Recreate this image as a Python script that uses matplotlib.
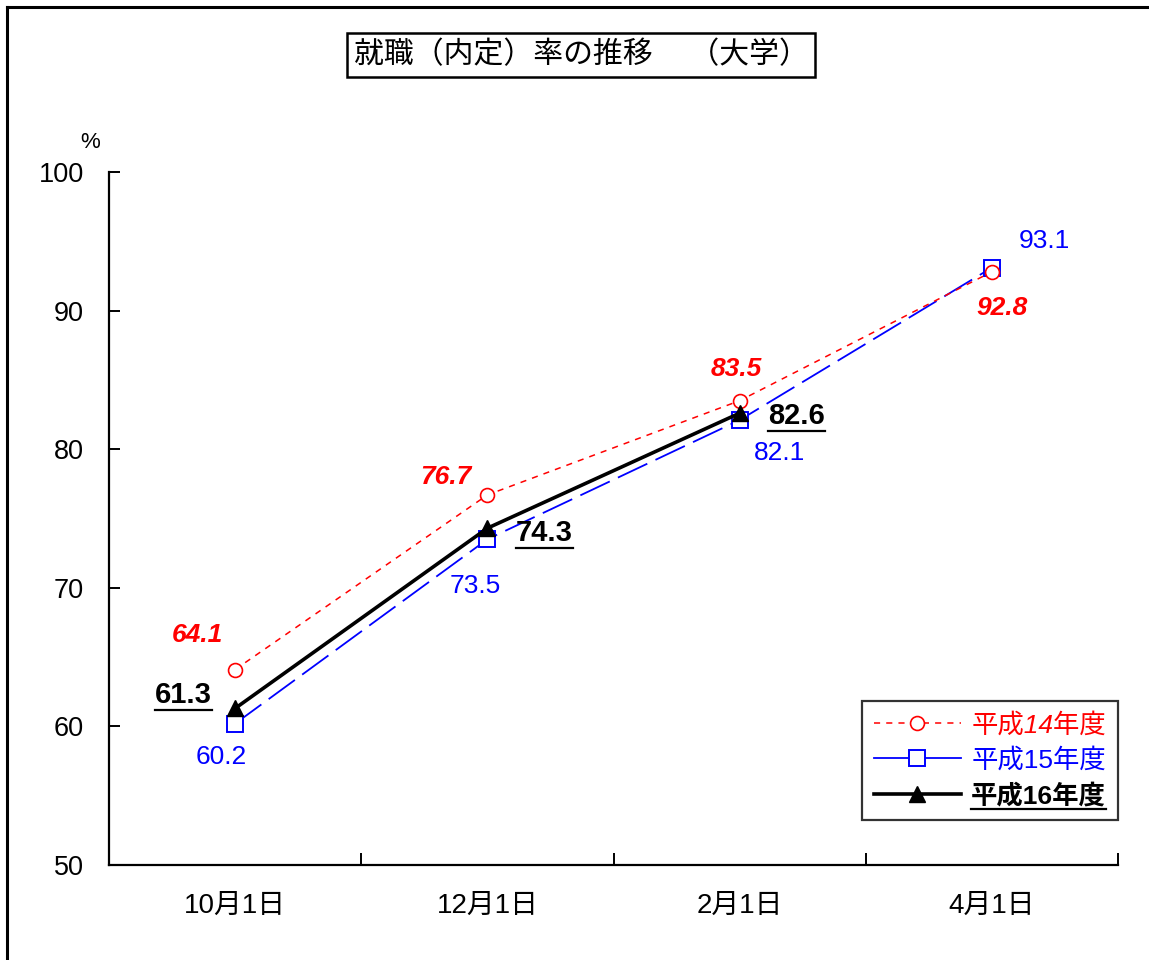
import matplotlib
matplotlib.use("Agg")
import matplotlib.pyplot as plt
from matplotlib.lines import Line2D

plt.rcParams['font.family'] = ['Liberation Sans', 'Noto Sans CJK JP', 'DejaVu Sans']

# ---- data ----
categories = ['10月1日', '12月1日', '2月1日', '4月1日']
series_names = ['平成14年度', '平成15年度', '平成16年度']
h14 = [64.1, 76.7, 83.5, 92.8]
h15 = [60.2, 73.5, 82.1, 93.1]
h16 = [61.3, 74.3, 82.6]
y_ticks = [50, 60, 70, 80, 90, 100]
title_text = '就職（内定）率の推移　 （大学）'

W, H = 1149, 960
fig = plt.figure(figsize=(W / 100, H / 100), dpi=100)
fig.patch.set_facecolor('white')

# outer frame (only left/top visible in reference)
fig.add_artist(Line2D([7 / W, 7 / W], [0, 1 - 7 / H], transform=fig.transFigure, color='black', lw=2.2))
fig.add_artist(Line2D([7 / W, 1], [1 - 7 / H, 1 - 7 / H], transform=fig.transFigure, color='black', lw=2.2))

ax = fig.add_axes([109 / W, 1 - 865 / H, (1118 - 109) / W, (865 - 172) / H])
ax.set_xlim(0, len(categories))
ax.set_ylim(50, 100)
for s in ['top', 'right']:
    ax.spines[s].set_visible(False)
for s in ['left', 'bottom']:
    ax.spines[s].set_linewidth(1.6)

xs = [i + 0.5 for i in range(len(categories))]

red_style = dict(color='#ff0000', lw=1.1, ls=(0, (4, 4)), marker='o', ms=10,
                 mfc='white', mec='#ff0000', mew=1.2)
blue_mk = dict(color='#0000ff', lw=1.3, marker='s', ms=11, mfc='white', mec='#0000ff', mew=1.4)
black_style = dict(color='black', lw=2.6, ls='-', marker='^', ms=11, mfc='black', mec='black')

ax.plot(xs, h14, zorder=3, **red_style)
ax.plot(xs, h15, ls=(0, (18, 5)), zorder=2, **blue_mk)
ax.plot(xs[:len(h16)], h16, zorder=4, **black_style)

# ticks
ax.set_yticks(y_ticks)
ax.set_yticklabels([str(v) for v in y_ticks], fontsize=19.5)
ax.tick_params(axis='y', direction='in', length=8, width=1.4, pad=18)
ax.set_xticks(range(1, len(categories) + 1))
ax.set_xticklabels([''] * len(categories))
ax.tick_params(axis='x', which='major', direction='in', length=9, width=1.4)
ax.set_xticks(xs, minor=True)
ax.set_xticklabels(categories, minor=True, fontsize=20)
ax.tick_params(axis='x', which='minor', length=0, pad=20)

fig.text(90 / W, 1 - 142 / H, '%', fontsize=16, ha='center', va='center')

# data labels
off14 = [(-38, 35), (-42, 18), (-3, 32), (10, -36)]
off15 = [(-14, -33), (-12, -47), (40, -33), (52, 27)]
off16 = [(-52, 13), (57, -5), (57, -3)]
u_labels = []
for (x, v, (dx, dy)) in zip(xs, h14, off14):
    ax.annotate(f'{v}', (x, v), xytext=(dx, dy), textcoords='offset pixels', ha='center', va='center',
                color='#ff0000', fontsize=19, fontweight='bold', fontstyle='italic')
for (x, v, (dx, dy)) in zip(xs, h15, off15):
    ax.annotate(f'{v}', (x, v), xytext=(dx, dy), textcoords='offset pixels', ha='center', va='center',
                color='#0000ff', fontsize=19)
for (x, v, (dx, dy)) in zip(xs, h16, off16):
    t = ax.annotate(f'{v}', (x, v), xytext=(dx, dy), textcoords='offset pixels', ha='center', va='center',
                    color='black', fontsize=21, fontweight='bold')
    u_labels.append(t)

# legend (proxy handles: blue shown solid in legend as in reference)
hd = [Line2D([], [], **red_style),
      Line2D([], [], ls='-', **blue_mk),
      Line2D([], [], **black_style)]
leg = ax.legend(handles=hd, labels=series_names, loc='lower right', bbox_to_anchor=(1.0, 0.065),
                fontsize=19, frameon=True, fancybox=False, edgecolor='black', handlelength=3.3,
                borderpad=0.45, labelspacing=0.4, handletextpad=0.4, borderaxespad=0.0)
leg.get_frame().set_linewidth(1.6)
lt = leg.get_texts()
lt[0].set_color('#ff0000'); lt[0].set_fontstyle('italic')
lt[1].set_color('#0000ff')
lt[2].set_color('black'); lt[2].set_fontweight('bold')
u_labels.append(lt[2])

# title box
tt = fig.text(581 / W, 1 - 55 / H, title_text, fontsize=21.5, ha='center', va='center',
              family=['Noto Sans CJK JP', 'DejaVu Sans'],
              bbox=dict(boxstyle='square,pad=0.22', fc='white', ec='black', lw=1.8))

# underline bold labels
fig.canvas.draw()
r = fig.canvas.get_renderer()
for t in u_labels:
    bb = t.get_window_extent(r)
    yline = bb.y0 - 1
    fig.add_artist(Line2D([bb.x0 / W, bb.x1 / W], [yline / H, yline / H], transform=fig.transFigure,
                          color='black', lw=1.6))

fig.savefig('out.png', dpi=100, facecolor='white')
